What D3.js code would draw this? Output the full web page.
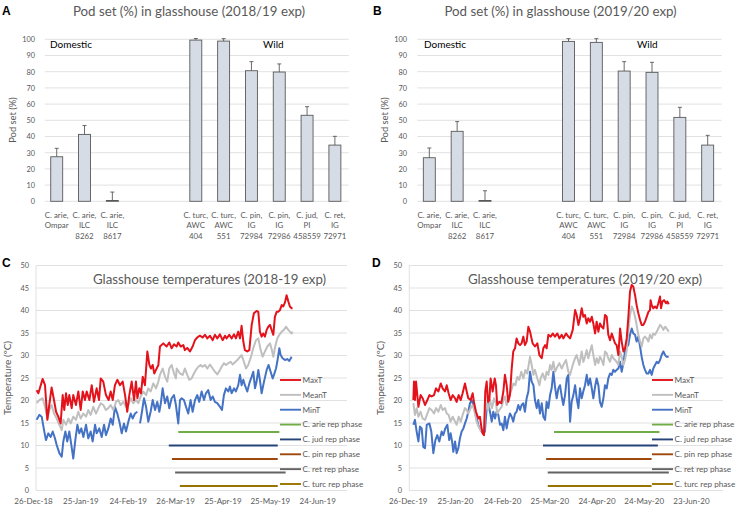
<!DOCTYPE html>
<html>
<head>
<meta charset="utf-8">
<script src="https://cdn.jsdelivr.net/npm/d3@7/dist/d3.min.js"></script>
<style>
  html, body { margin: 0; padding: 0; background: #fff; }
  svg { display: block; font-family: Lato, 'Open Sans', sans-serif; }
</style>
</head>
<body>
<svg id="chart" width="738" height="510"></svg>
<script>
// ---- pod set data (A, B) ----
var podLabels = ['C. arie,|Ompar', 'C. arie,|ILC|8262', 'C. arie,|ILC|8617', '', '',
  'C. turc,|AWC|404', 'C. turc,|AWC|551', 'C. pin,|IG|72984', 'C. pin,|IG|72986', 'C. jud,|PI|458559', 'C. ret,|IG|72971'];
var podSet1819 = [27.5, 41.3, 0.5, null, null, 99.5, 98.9, 80.6, 79.8, 53.1, 34.7];
var podErr1819 = [5.2, 5.5, 5.2, null, null, 1.0, 1.5, 5.6, 5.0, 5.3, 5.4];
var podSet1920 = [26.9, 43.2, 0.5, null, null, 98.7, 98.1, 80.4, 79.6, 51.8, 34.7];
var podErr1920 = [6.0, 6.0, 6.0, null, null, 1.7, 2.3, 5.8, 6.2, 6.2, 6.0];
var podTicks = [0, 10, 20, 30, 40, 50, 60, 70, 80, 90, 100];

// ---- temperature data (C, D): [days since first tick date, degC] ----
var tempTicks = [0, 5, 10, 15, 20, 25, 30, 35, 40, 45, 50];
var tickDates1819 = ['26-Dec-18', '25-Jan-19', '24-Feb-19', '26-Mar-19', '25-Apr-19', '25-May-19', '24-Jun-19'];
var tickDates1920 = ['26-Dec-19', '25-Jan-20', '24-Feb-20', '25-Mar-20', '24-Apr-20', '24-May-20', '23-Jun-20'];

var maxT1819 = [[2.3,22.3],[3.4,21.6],[6.1,24.8],[7.6,23.4],[9.1,15.7],[10.3,19.0],[11.8,22.9],[13.3,20.1],[14.6,17.5],[16.0,16.4],[17.5,14.9],[18.8,21.2],[19.8,17.9],[20.9,21.6],[22.0,19.0],[23.0,21.2],[24.5,18.3],[25.5,21.2],[27.2,19.0],[28.7,22.0],[30.2,17.9],[31.5,22.0],[32.9,20.1],[34.0,22.0],[35.7,20.1],[37.2,23.4],[38.6,19.7],[40.3,22.7],[41.8,20.1],[42.9,24.9],[44.5,24.2],[46.2,21.2],[47.9,20.1],[49.2,22.0],[50.5,20.1],[51.9,23.4],[53.4,24.6],[55.1,23.4],[56.8,24.2],[58.3,21.2],[59.7,17.5],[61.0,21.2],[62.5,24.2],[64.0,20.1],[65.2,24.2],[66.1,20.5],[67.3,22.7],[68.4,21.6],[69.5,25.3],[70.9,23.4],[72.4,30.9],[73.7,27.9],[74.7,27.1],[75.8,27.9],[76.8,26.0],[77.9,26.8],[79.4,27.9],[80.4,32.0],
  [82.5,32.7],[84.6,32.0],[86.3,32.9],[87.8,31.6],[89.3,32.5],[91.0,32.0],[92.0,32.9],[93.5,32.0],[95.2,32.3],[96.2,31.2],[97.7,31.7],[99.4,30.9],[101.1,32.0],[102.6,33.4],[104.0,34.0],[105.7,34.4],[107.4,34.0],[108.9,34.6],[110.4,33.8],[112.1,34.4],[113.8,33.4],[115.2,34.6],[116.7,33.8],[118.4,34.7],[120.1,33.4],[121.6,34.4],[122.6,33.8],[124.3,34.6],[125.8,33.8],[127.3,34.7],[128.5,33.8],[130.0,35.3],[131.1,33.8],[132.1,36.6],[133.2,33.1],[134.2,31.2],[135.7,30.9],[137.0,31.2],[138.5,36.8],[139.9,39.4],[141.6,39.9],[142.7,39.7],[143.7,35.3],[144.8,34.2],[145.8,34.9],[146.9,34.2],[148.0,35.7],[149.0,36.4],[150.1,36.8],[151.1,35.7],[152.2,34.6],[153.2,38.6],[154.3,39.7],[155.3,39.7],[156.4,40.1],[157.5,41.2],[158.5,40.9],[159.6,41.8],[160.6,43.4],[161.7,42.0],[162.7,40.9],[163.8,40.5],[164.4,40.5]];
var meanT1819 = [[2.3,19.4],[4.0,20.1],[6.1,20.5],[7.6,18.6],[9.1,16.0],[10.3,17.9],[11.8,19.0],[13.3,17.1],[15.0,16.0],[16.7,14.6],[18.2,13.4],[19.2,15.7],[20.9,14.6],[22.4,16.0],[23.9,14.9],[25.5,16.4],[27.2,15.7],[28.7,17.5],[30.2,16.0],[31.9,17.1],[33.6,16.4],[35.0,17.9],[36.5,16.8],[38.2,18.6],[39.9,17.1],[41.4,18.3],[42.9,19.4],[44.5,19.0],[46.2,17.9],[47.7,18.3],[49.2,19.0],[50.9,17.9],[52.6,19.7],[54.0,20.1],[55.5,19.0],[57.2,19.7],[58.9,18.6],[60.4,19.0],[61.9,20.5],[63.5,19.4],[65.2,20.1],[66.7,19.4],[68.2,20.9],[69.9,22.0],[71.6,21.2],[73.0,22.7],[74.5,22.0],[76.2,23.8],[77.9,22.7],[79.4,24.2],
  [80.4,25.7],[82.1,27.1],[83.6,25.3],[85.0,24.2],[86.3,27.1],[87.8,27.9],[89.3,26.0],[90.5,24.9],[91.0,27.1],[93.1,26.0],[94.8,25.7],[96.2,27.1],[97.7,25.7],[99.0,24.6],[100.5,24.9],[101.9,26.0],[103.2,26.8],[104.7,27.5],[106.2,27.9],[107.4,27.5],[108.9,27.9],[110.4,27.1],[112.1,28.0],[113.8,27.1],[115.2,26.4],[116.7,25.8],[118.4,26.8],[119.5,27.5],[120.9,28.3],[122.2,27.9],[123.7,28.3],[125.2,28.6],[126.4,28.0],[127.9,28.5],[129.4,29.0],[131.1,29.7],[132.1,30.1],[133.2,29.0],[134.9,27.1],[136.3,27.9],[137.8,29.4],[139.5,31.6],[141.2,33.4],[142.7,33.8],[144.2,31.2],[145.4,29.7],[146.9,30.9],[148.4,32.0],[150.1,32.7],[151.3,31.2],[152.2,29.7],[153.4,32.0],[154.7,33.8],[156.0,34.6],[157.5,35.3],[158.9,35.7],[160.2,36.4],[161.7,35.7],[162.7,35.3],[163.8,34.9],[164.4,35.3]];
var minT1819 = [[2.3,15.7],[4.0,16.8],[5.5,16.4],[7.0,13.4],[8.2,11.2],[9.7,12.7],[11.2,11.9],[12.5,13.1],[13.9,11.6],[15.0,10.1],[16.7,8.3],[18.2,7.5],[19.2,10.9],[20.5,13.1],[21.7,10.9],[23.0,13.1],[24.3,10.1],[25.5,7.1],[26.8,11.2],[28.1,14.6],[29.3,12.7],[30.6,13.8],[31.9,11.9],[33.6,14.6],[35.0,11.6],[36.5,13.1],[37.8,10.9],[39.3,14.6],[40.3,12.7],[42.0,13.8],[43.5,11.9],[45.0,14.6],[46.2,12.3],[47.7,13.8],[49.2,16.0],[50.5,14.6],[51.9,18.6],[53.4,17.1],[54.7,15.3],[56.2,12.7],[57.6,14.9],[58.9,13.1],[60.4,15.3],[61.9,17.1],[63.1,16.0],[64.6,17.1],[66.1,17.5],null,
  [67.8,14.9],[69.0,17.5],[70.3,20.5],[71.6,18.6],[73.0,15.3],[74.5,17.5],[75.8,20.1],[77.3,17.9],[78.7,19.7],[80.0,17.5],[81.0,19.5],[82.1,22.7],[83.6,19.4],[85.0,20.9],[86.3,18.3],[87.8,20.5],[89.3,21.2],[90.5,19.0],[92.0,14.9],[93.1,20.1],[94.1,20.5],[95.6,20.1],[96.9,18.6],[98.3,17.1],[99.8,20.1],[101.1,17.5],[102.6,20.1],[104.0,21.2],[105.3,19.7],[106.8,22.0],[108.3,20.1],[109.5,21.6],[111.0,22.3],[112.5,20.1],[113.8,20.9],[115.2,19.7],[116.7,19.4],[118.4,18.6],[119.7,17.9],[120.9,21.2],[122.2,22.7],[123.7,22.0],[124.7,23.1],[125.8,21.6],[127.3,22.7],[128.5,22.0],[130.0,23.4],[131.1,25.7],[132.1,23.4],[133.2,24.6],[134.2,23.4],[135.7,22.0],[137.0,23.8],[138.5,25.3],[139.5,26.4],[140.6,22.7],[141.6,24.2],[142.7,26.8],[143.7,24.6],[144.8,21.6],[146.3,24.2],[148.0,26.8],[149.2,27.9],[150.5,26.4],[151.8,24.9],[152.6,25.7],[153.9,27.1],[154.7,28.6],[156.0,31.6],[156.8,30.1],[158.1,29.4],[159.6,29.0],[161.0,29.2],[162.3,28.8],[163.8,29.7]];

var maxT1920 = [[3.6,20.1],[4.0,24.2],[4.6,20.1],[5.3,24.2],[6.8,18.6],[8.2,21.2],[9.5,20.5],[11.0,19.0],[12.5,20.1],[13.8,21.2],[15.2,20.9],[16.7,21.2],[18.0,22.7],[19.5,22.0],[21.0,23.8],[22.2,22.7],[23.7,22.0],[24.8,23.4],[26.0,21.6],[27.3,20.1],[28.6,21.2],[30.1,20.5],[31.1,19.7],[32.4,21.2],[33.7,20.1],[34.9,21.6],[36.4,23.8],[37.5,22.0],[38.5,20.5],[40.0,20.1],[41.3,21.6],[42.1,19.7],[43.4,17.5],[44.9,16.0],[45.9,16.4],[46.8,14.2],[47.6,12.7],[48.5,12.3],[49.3,22.0],[50.2,24.2],[51.0,19.7],[51.9,20.1],[52.7,24.9],[54.0,22.0],[55.3,24.9],[56.1,23.4],[56.9,19.0],[58.2,19.7],[59.5,19.4],[60.8,22.0],[61.8,25.7],[62.9,23.4],[63.9,19.7],[65.0,21.2],[66.1,27.1],[67.1,30.9],[68.2,31.6],[69.2,33.8],[70.3,32.7],[71.4,32.3],[72.4,32.7],[73.5,34.2],[74.5,32.3],[75.6,33.1],[76.7,36.4],
  [77.75,35.3],[79.4,32.7],[80.9,32.0],[82.4,32.7],[83.7,30.1],[85.2,29.4],[86.2,31.6],[87.3,32.3],[88.3,31.6],[89.4,34.6],[90.9,34.2],[92.2,34.9],[93.6,34.2],[95.1,34.9],[96.4,33.8],[97.9,34.6],[98.9,33.8],[100.6,34.9],[102.1,34.2],[103.2,33.8],[104.9,35.7],[106.4,40.1],[107.4,39.0],[108.5,36.8],[109.5,38.3],[110.6,40.5],[111.6,38.6],[112.7,39.0],[113.8,37.1],[114.8,38.3],[115.9,37.5],[117.0,38.6],[118.0,37.1],[119.1,34.9],[120.1,37.5],[121.2,35.3],[122.2,37.1],[123.3,36.4],[124.4,36.0],[125.4,39.0],[126.5,38.6],[127.5,34.6],[128.6,33.4],[129.7,34.9],[130.7,33.8],[131.8,32.7],[132.8,32.3],[133.9,30.1],[135.0,36.0],[136.0,33.1],[137.1,30.9],[138.1,31.6],[139.2,33.8],[140.2,38.3],[141.3,44.2],[142.4,45.7],[143.4,45.3],[144.5,43.4],[145.5,41.2],[146.6,39.4],[147.7,37.9],[148.7,36.8],[149.8,36.8],[150.8,37.5],[151.9,38.6],[153.0,39.7],[154.0,40.1],[154.4,42.3],[155.1,41.2],[156.1,40.5],[157.2,40.9],[158.3,40.5],[159.3,41.6],[160.4,43.1],[161.0,40.5],[161.9,42.0],[162.9,42.3],[164.2,41.6],[165.0,42.0],[165.9,41.4]];
var meanT1920 = [[3.6,19.4],[4.6,16.8],[5.7,18.3],[6.8,16.4],[8.2,17.5],[9.5,16.0],[11.0,15.7],[12.5,17.1],[13.8,18.3],[15.2,17.9],[16.7,17.1],[18.0,18.3],[19.5,17.5],[21.0,19.0],[22.2,17.9],[23.7,18.3],[24.8,17.1],[26.0,16.8],[27.3,15.3],[28.6,16.4],[30.1,15.3],[31.1,14.6],[32.4,16.4],[33.7,15.3],[34.9,16.8],[36.4,18.3],[37.5,17.9],[38.5,17.1],[40.0,18.3],[41.3,19.0],[42.8,17.1],[43.8,15.3],[45.1,14.2],[46.4,13.4],[47.6,13.1],[48.5,12.7],[49.3,17.5],[50.2,19.4],[51.2,17.9],[52.3,20.1],[53.6,18.3],[54.9,20.5],[56.1,19.4],[56.9,17.1],[58.2,17.9],[59.7,18.6],[60.8,20.1],[61.8,20.9],[62.9,19.0],[63.9,20.5],[65.0,21.6],[66.3,22.7],[67.1,23.8],[68.4,23.4],[69.7,25.3],[70.9,24.6],[72.2,26.4],[73.5,24.9],[74.8,26.8],[76.0,26.0],
  [77.75,29.7],[78.8,27.9],[79.9,25.7],[80.9,26.8],[82.4,24.9],[83.7,23.4],[84.5,24.9],[85.8,26.0],[87.3,24.6],[88.3,26.4],[89.4,25.7],[90.5,27.9],[91.5,26.8],[92.6,28.6],[93.6,26.4],[95.1,27.5],[96.4,28.3],[97.9,27.1],[98.9,27.9],[100.6,29.0],[102.1,26.4],[103.2,25.7],[104.9,27.9],[106.4,29.4],[107.4,30.1],[109.1,27.9],[110.6,30.9],[111.6,28.6],[112.7,29.7],[113.8,31.2],[114.8,29.4],[115.9,30.9],[117.0,32.3],[118.0,30.1],[119.1,27.9],[120.1,29.4],[121.2,28.3],[122.2,29.7],[123.3,29.0],[124.4,27.9],[125.4,30.9],[126.5,30.5],[127.5,29.4],[128.6,28.6],[129.7,30.1],[130.7,29.4],[131.8,29.0],[132.8,28.6],[133.9,27.9],[135.0,30.9],[136.0,29.7],[137.1,27.9],[138.1,29.0],[139.2,31.2],[140.2,35.3],[141.3,39.0],[142.4,40.9],[143.4,40.1],[144.5,38.6],[145.5,36.8],[146.6,34.6],[147.7,33.1],[148.7,32.0],[149.8,33.8],[150.8,34.2],[151.9,33.8],[153.0,33.1],[154.0,34.6],[155.1,33.8],[156.1,34.9],[157.2,34.6],[158.3,35.3],[159.3,36.0],[160.4,36.8],[161.4,36.4],[162.5,35.7],[163.6,36.4],[164.6,36.0],[165.9,35.3]];
var minT1920 = [[3.6,14.6],[4.6,15.7],[5.7,13.1],[6.8,10.9],[7.8,14.2],[8.9,13.8],[9.9,9.7],[11.0,9.4],[12.1,14.6],[13.8,14.9],[15.0,13.1],[16.3,8.3],[17.6,11.2],[18.8,12.3],[20.1,10.9],[21.6,13.1],[22.6,12.3],[23.9,13.8],[25.2,14.6],[26.4,11.2],[27.3,12.7],[28.2,10.9],[29.0,8.6],[30.1,10.9],[31.1,8.3],[32.2,9.4],[33.2,11.6],[34.3,13.1],[35.4,13.8],[36.4,14.9],[37.5,16.0],[38.5,17.5],[39.6,19.4],[40.7,20.1],[41.7,19.0],[42.8,17.5],[43.8,16.0],[44.9,14.6],[45.9,13.8],[47.0,13.1],[48.1,12.7],[49.1,13.1],[50.2,18.3],[51.2,19.4],[52.3,17.5],[53.4,15.3],[54.4,17.5],[55.5,16.0],[56.5,17.5],[57.6,16.8],[58.7,14.6],[59.7,14.9],[60.8,13.4],[61.8,16.4],[62.9,13.8],[63.9,15.7],[65.0,17.1],[66.1,16.4],[67.1,15.3],[68.2,17.1],[69.2,17.5],[70.3,19.0],[71.4,17.9],[72.4,19.0],[73.5,19.4],[74.5,17.5],[75.6,20.5],[76.7,22.0],
  [77.75,26.4],[78.8,24.2],[79.9,23.4],[80.9,20.1],[82.0,18.3],[83.0,20.1],[84.1,17.1],[85.2,19.4],[86.2,16.4],[87.3,15.7],[88.3,19.7],[89.4,18.3],[90.5,21.2],[91.5,22.7],[92.6,26.4],[93.6,23.1],[94.7,20.5],[95.8,22.7],[96.8,23.4],[97.9,20.9],[98.9,19.0],[100.0,21.2],[101.1,24.9],[102.1,25.7],[103.2,15.3],[104.2,19.7],[105.3,21.2],[106.4,23.4],[107.4,20.5],[108.5,18.3],[109.5,22.7],[110.6,20.5],[111.6,22.0],[112.7,23.4],[113.8,25.7],[114.8,23.4],[115.9,24.9],[117.0,22.7],[118.0,20.5],[119.1,23.1],[120.1,24.9],[121.2,23.4],[122.2,19.7],[123.3,18.6],[124.4,20.5],[125.4,23.4],[126.5,22.7],[127.5,24.9],[128.6,26.0],[129.7,25.7],[130.7,26.8],[131.8,26.4],[132.8,26.8],[133.9,27.1],[135.0,28.6],[136.0,26.4],[137.1,28.3],[138.1,30.9],[139.2,32.0],[140.2,32.3],[141.3,34.6],[142.4,36.0],[143.4,34.9],[144.5,34.6],[145.5,33.1],[146.6,34.2],[147.7,32.0],[148.7,29.7],[149.8,27.9],[150.8,26.8],[151.9,26.0],[153.0,26.0],[154.0,26.8],[155.1,25.7],[156.1,27.1],[157.2,27.9],[158.3,28.6],[159.3,28.3],[160.4,29.0],[161.4,30.1],[162.5,30.9],[163.6,30.1],[164.6,29.7],[165.9,29.7]];

// reproductive phases: level on the temperature axis, start and end dates
var repNames = ['C. arie rep phase', 'C. jud rep phase', 'C. pin rep phase', 'C. ret rep phase', 'C. turc rep phase'];
var repColors = ['#70ad47', '#264478', '#9e480e', '#636363', '#997300'];
var repLevels = [13, 10, 7, 4, 1];
var repStart1819 = ['28-Mar-19', '22-Mar-19', '24-Mar-19', '26-Mar-19', '29-Mar-19'];
var repEnd1819 = ['31-May-19', '30-May-19', '30-May-19', '04-Jun-19', '30-May-19'];
var repStart1920 = ['28-Mar-20', '21-Mar-20', '23-Mar-20', '24-Mar-20', '24-Mar-20'];
var repEnd1920 = ['03-Jun-20', '02-Jun-20', '29-May-20', '09-Jun-20', '29-May-20'];

var tempNames = ['MaxT', 'MeanT', 'MinT'];
var tempColors = ['#e3121b', '#bfbfbf', '#4472c4'];

var svg = d3.select('#chart');
var parseDate = d3.utcParse('%d-%b-%y');
var grey = '#595959';

function panelLetter(x, y, s) {
  svg.append('text')
    .attr('x', x).attr('y', y)
    .attr('font-family', 'Liberation Sans, Arial, sans-serif')
    .attr('font-weight', 'bold')
    .attr('font-size', 12)
    .text(s);
}

function drawPod(cfg) {
  var g = svg.append('g');
  var x = d3.scaleBand()
    .domain(d3.range(podLabels.length))
    .range(cfg.xRange)
    .paddingInner(0.57)
    .paddingOuter(0.285);
  var y = d3.scaleLinear().domain([0, 100]).range([201.3, 39.3]);

  g.selectAll('line.grid')
    .data(podTicks)
    .join('line')
    .attr('class', 'grid')
    .attr('x1', cfg.xRange[0] + 2)
    .attr('x2', cfg.xRange[1])
    .attr('y1', d => y(d))
    .attr('y2', d => y(d))
    .attr('stroke', '#d9d9d9')
    .attr('stroke-width', 0.8);

  var yAxis = d3.axisLeft(y).tickValues(podTicks).tickSize(0).tickPadding(0);
  g.append('g')
    .attr('transform', `translate(${cfg.tickX}, 0)`)
    .call(yAxis)
    .call(a => a.select('.domain').remove())
    .attr('font-family', null)
    .attr('font-size', 7.4)
    .selectAll('text')
    .attr('fill', grey)
    .attr('dy', '0.33em');

  var idx = d3.range(podLabels.length).filter(i => cfg.values[i] !== null);

  g.selectAll('rect.bar')
    .data(idx)
    .join('rect')
    .attr('class', 'bar')
    .attr('x', i => x(i))
    .attr('width', x.bandwidth())
    .attr('y', i => y(cfg.values[i]))
    .attr('height', i => y(0) - y(cfg.values[i]))
    .attr('fill', '#d6dce5')
    .attr('stroke', '#595959')
    .attr('stroke-width', 0.9);

  // error bars (plus direction only)
  var cx = i => x(i) + x.bandwidth() / 2;
  g.selectAll('line.err')
    .data(idx)
    .join('line')
    .attr('class', 'err')
    .attr('x1', cx).attr('x2', cx)
    .attr('y1', i => y(cfg.values[i]))
    .attr('y2', i => y(cfg.values[i] + cfg.errs[i]))
    .attr('stroke', '#595959')
    .attr('stroke-width', 0.9);
  g.selectAll('line.cap')
    .data(idx)
    .join('line')
    .attr('class', 'cap')
    .attr('x1', i => cx(i) - 2).attr('x2', i => cx(i) + 2)
    .attr('y1', i => y(cfg.values[i] + cfg.errs[i]))
    .attr('y2', i => y(cfg.values[i] + cfg.errs[i]))
    .attr('stroke', '#595959')
    .attr('stroke-width', 0.9);

  // category labels
  var lab = g.selectAll('text.cat')
    .data(d3.range(podLabels.length))
    .join('text')
    .attr('class', 'cat')
    .attr('text-anchor', 'middle')
    .attr('font-size', 7.9)
    .attr('fill', grey);
  lab.selectAll('tspan')
    .data(i => podLabels[i] ? podLabels[i].split('|').map(s => [i, s]) : [])
    .join('tspan')
    .attr('x', d => cx(d[0]))
    .attr('y', (d, k) => 217.5 + k * 10.8)
    .text(d => d[1]);

  g.append('text')
    .attr('transform', `translate(${cfg.labelX}, 120) rotate(-90)`)
    .attr('text-anchor', 'middle')
    .attr('font-size', 9.4)
    .attr('fill', grey)
    .text('Pod set (%)');

  g.append('text')
    .attr('x', cfg.titleX).attr('y', 16)
    .attr('text-anchor', 'middle')
    .attr('font-size', 13.3)
    .attr('fill', grey)
    .text(cfg.title);

  g.append('text')
    .attr('x', cfg.domX).attr('y', 47.5)
    .attr('font-size', 10)
    .attr('fill', '#000')
    .text('Domestic');
  g.append('text')
    .attr('x', cfg.wildX).attr('y', 47.5)
    .attr('font-size', 10)
    .attr('fill', '#000')
    .text('Wild');

  panelLetter(cfg.letterX, 15, cfg.letter);
}

function drawTemp(cfg) {
  var g = svg.append('g');
  var start = parseDate(cfg.ticks[0]);
  var x = d3.scaleUtc()
    .domain([start, parseDate(cfg.ticks[cfg.ticks.length - 1])])
    .range([cfg.x0, cfg.x0 + cfg.step * (cfg.ticks.length - 1)]);
  var y = d3.scaleLinear().domain([0, 50]).range([490.5, 265.5]);

  g.selectAll('line.grid')
    .data(tempTicks)
    .join('line')
    .attr('class', 'grid')
    .attr('x1', cfg.axisX)
    .attr('x2', cfg.right)
    .attr('y1', d => y(d))
    .attr('y2', d => y(d))
    .attr('stroke', '#d9d9d9')
    .attr('stroke-width', 0.8);
  g.append('line')
    .attr('x1', cfg.axisX).attr('x2', cfg.axisX)
    .attr('y1', y(50)).attr('y2', y(0))
    .attr('stroke', '#d9d9d9')
    .attr('stroke-width', 0.8);

  var yAxis = d3.axisLeft(y).tickValues(tempTicks).tickSize(0).tickPadding(0);
  g.append('g')
    .attr('transform', `translate(${cfg.tickX}, 0)`)
    .call(yAxis)
    .call(a => a.select('.domain').remove())
    .attr('font-family', null)
    .attr('font-size', 7.4)
    .selectAll('text')
    .attr('fill', grey)
    .attr('dy', '0.33em');

  var xAxis = d3.axisBottom(x)
    .tickValues(cfg.ticks.map(parseDate))
    .tickFormat((d, i) => cfg.ticks[i])
    .tickSize(0)
    .tickPadding(0);
  g.append('g')
    .attr('transform', 'translate(0, 498)')
    .call(xAxis)
    .call(a => a.select('.domain').remove())
    .attr('font-family', null)
    .attr('font-size', 8)
    .selectAll('text')
    .attr('fill', grey)
    .attr('dy', '0.71em');

  var toDate = d => new Date(start.getTime() + d[0] * 864e5);

  // reproductive phase bars
  g.selectAll('line.rep')
    .data(repNames.map((n, i) => i))
    .join('line')
    .attr('class', 'rep')
    .attr('x1', i => x(parseDate(cfg.repStart[i])))
    .attr('x2', i => x(parseDate(cfg.repEnd[i])))
    .attr('y1', i => y(repLevels[i]))
    .attr('y2', i => y(repLevels[i]))
    .attr('stroke', i => repColors[i])
    .attr('stroke-width', 1.9);

  var line = d3.line()
    .defined(d => d !== null)
    .x(d => x(toDate(d)))
    .y(d => y(d[1]));

  [cfg.minT, cfg.meanT, cfg.maxT].forEach((s, k) => {
    g.append('path')
      .datum(s)
      .attr('fill', 'none')
      .attr('stroke', tempColors[2 - k])
      .attr('stroke-width', 2)
      .attr('stroke-linejoin', 'round')
      .attr('d', line);
  });

  // legend
  var legNames = tempNames.concat(repNames);
  var legColors = tempColors.concat(repColors);
  var ly = d3.scalePoint().domain(legNames).range([380, 484]);
  var leg = g.selectAll('g.leg')
    .data(legNames)
    .join('g')
    .attr('class', 'leg')
    .attr('transform', d => `translate(${cfg.legX}, ${ly(d)})`);
  leg.append('line')
    .attr('x1', 0).attr('x2', 21)
    .attr('stroke', (d, i) => legColors[i])
    .attr('stroke-width', 1.9);
  leg.append('text')
    .attr('x', 22.5)
    .attr('dy', '0.35em')
    .attr('font-size', 8.2)
    .attr('fill', grey)
    .text(d => d);

  g.append('text')
    .attr('transform', `translate(${cfg.labelX}, 378) rotate(-90)`)
    .attr('text-anchor', 'middle')
    .attr('font-size', 10)
    .attr('fill', grey)
    .text('Temperature (ºC)');

  g.append('text')
    .attr('x', cfg.titleX).attr('y', 284)
    .attr('text-anchor', 'middle')
    .attr('font-size', 13.3)
    .attr('fill', grey)
    .text(cfg.title);

  panelLetter(cfg.letterX, 267, cfg.letter);
}

drawPod({ letter: 'A', letterX: 2, title: 'Pod set (%) in glasshouse (2018/19 exp)', titleX: 189,
  xRange: [42.8, 348.8], tickX: 35, labelX: 16, domX: 50, wildX: 263,
  values: podSet1819, errs: podErr1819 });
drawPod({ letter: 'B', letterX: 373, title: 'Pod set (%) in glasshouse (2019/20 exp)', titleX: 560.5,
  xRange: [415.4, 721.6], tickX: 407, labelX: 388, domX: 424, wildX: 637,
  values: podSet1920, errs: podErr1920 });

drawTemp({ letter: 'C', letterX: 2, title: 'Glasshouse temperatures (2018-19 exp)', titleX: 209.5,
  ticks: tickDates1819, x0: 33.0, step: 47.37, axisX: 36, right: 347, tickX: 29, labelX: 11, legX: 280,
  maxT: maxT1819, meanT: meanT1819, minT: minT1819, repStart: repStart1819, repEnd: repEnd1819 });
drawTemp({ letter: 'D', letterX: 372, title: 'Glasshouse temperatures (2019/20 exp)', titleX: 585,
  ticks: tickDates1920, x0: 407.7, step: 47.2, axisX: 409.3, right: 723, tickX: 402, labelX: 384, legX: 652,
  maxT: maxT1920, meanT: meanT1920, minT: minT1920, repStart: repStart1920, repEnd: repEnd1920 });
</script>
</body>
</html>
